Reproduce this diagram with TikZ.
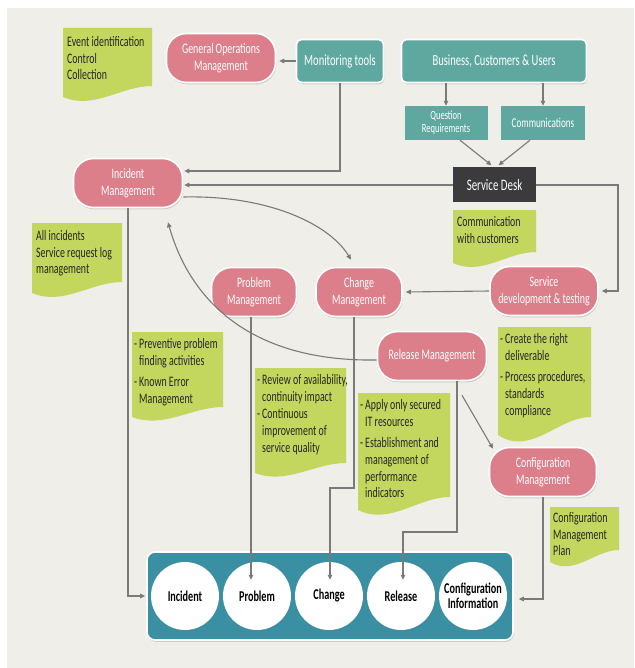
\documentclass[tikz,border=0pt]{standalone}
\usepackage{fontspec}
\setmainfont[FakeStretch=0.68]{Carlito}
\usetikzlibrary{arrows.meta,shadows,calc}
\definecolor{bgc}{HTML}{EFEEE8}
\definecolor{pinkc}{HTML}{DD7F8B}
\definecolor{tealc}{HTML}{5EA8A0}
\definecolor{notec}{HTML}{C3D65E}
\definecolor{contc}{HTML}{3B8FA3}
\definecolor{darkc}{HTML}{3B3B3D}
\definecolor{arrc}{HTML}{7A7A7A}
\newcommand\notebg[5]{\fill[notec] (#1,#2) -- (#3,#2) -- (#3,#4) .. controls ({#1+0.65*(#3-#1)},#4) and ({#1+0.35*(#3-#1)},{#4+2.2*#5}) .. (#1,{#4+#5}) -- cycle;}
\begin{document}
\begin{tikzpicture}[x=1pt,y=-1pt,
  shad/.style={drop shadow={shadow xshift=0.8pt,shadow yshift=-1.8pt,opacity=0.3}},
  pinkbox/.style={shad,fill=pinkc,draw=white,line width=1.6pt,rounded corners=20pt,text=white,align=center,minimum width=#1,minimum height=49pt,inner sep=1pt,font=\fontsize{14.5}{17}\selectfont},
  tealbox/.style={shad,fill=tealc,draw=white,line width=1.6pt,rounded corners=5pt,text=white,minimum width=#1,minimum height=43pt,inner sep=1pt,font=\fontsize{15.5}{17}\selectfont},
  subbox/.style={fill=tealc,text=white,align=center,minimum width=#1,minimum height=34pt,inner sep=1pt},
  sdbox/.style={fill=darkc,text=white,minimum width=83pt,minimum height=35pt,inner sep=1pt,font=\fontsize{16}{17}\selectfont},
  notetext/.style={inner sep=0pt,anchor=north west,align=left,text=black!85,font=\fontsize{14.5}{16.8}\selectfont},
  circ/.style={circle,fill=white,minimum size=68pt,inner sep=0pt,align=center,font=\bfseries\fontsize{15}{15}\selectfont},
  arr/.style={draw=arrc,line width=1.1pt,-{Triangle[length=5pt,width=4.5pt]}}
]
\useasboundingbox (0,0) rectangle (634,668);
\fill[white] (0,0) rectangle (634,668);
\fill[bgc] (7,8) rectangle (634,668);

% notes
\notebg{63}{28}{152}{86}{11}
\node[notetext] (n1) at (67,36) {Event identification\\Control\\Collection};
\notebg{32}{223}{122}{282}{11}
\node[notetext] (n2) at (36,230) {All incidents\\Service request log\\management};
\notebg{453}{210}{536}{252}{11}
\node[notetext] (n3) at (457,216) {Communication\\with customers};
\notebg{132}{332}{223}{407}{10}
\node[notetext] (n4) at (134,337) {\begin{tabular}{@{}l@{\hspace{2pt}}l@{}}-&Preventive problem\\&finding activities\\[4pt]-&Known Error\\&Management\end{tabular}};
\notebg{255}{368}{346}{463}{10}
\node[notetext] (n5) at (257,373) {\begin{tabular}{@{}l@{\hspace{2pt}}l@{}}-&Review of availability,\\&continuity impact\\-&Continuous\\&improvement of\\&service quality\end{tabular}};
\notebg{358}{393}{450}{497}{13}
\node[notetext] (n6) at (360,398) {\begin{tabular}{@{}l@{\hspace{2pt}}l@{}}-&Apply only secured\\&IT resources\\[4pt]-&Establishment and\\&management of\\&performance\\&indicators\end{tabular}};
\notebg{498}{327}{591}{417}{18}
\node[notetext] (n7) at (500,332) {\begin{tabular}{@{}l@{\hspace{2pt}}l@{}}-&Create the right\\&deliverable\\[4pt]-&Process procedures,\\&standards\\&compliance\end{tabular}};
\notebg{550}{507}{619}{550}{12}
\node[notetext] (n8) at (553,512) {Configuration\\Management\\Plan};

% boxes
\node[pinkbox=109pt] (gom) at (221,58) {General Operations\\Management};
\node[tealbox=87pt] (mt) at (340,61) {Monitoring tools};
\node[tealbox=185pt] (bcu) at (494,61) {Business, Customers \& Users};
\node[subbox=83pt,font=\fontsize{12.5}{13}\selectfont] (qr) at (446,123) {Question\\Requirements};
\node[subbox=84pt,font=\fontsize{13.5}{14}\selectfont] (comm) at (543,123) {Communications};
\node[sdbox] (sd) at (494.5,185) {Service Desk};
\node[pinkbox=109pt] (im) at (128,183) {Incident\\Management};
\node[pinkbox=108pt] (sdt) at (544,291) {Service\\development \& testing};
\node[pinkbox=86pt] (chm) at (359,292) {Change\\Management};
\node[pinkbox=85pt] (pm) at (254,292) {Problem\\Management};
\node[pinkbox=109pt] (rm) at (432,356) {Release Management};
\node[pinkbox=107pt] (cfg) at (543,472) {Configuration\\Management};

% container
\node[shad,fill=contc,draw=white,line width=1.6pt,rounded corners=8pt,minimum width=366pt,minimum height=88pt] (cont) at (330,596) {};
\node[circ] (c1) at (185,596) {Incident};
\node[circ] (c2) at (257,596) {Problem};
\node[circ] (c3) at (329,596) {Change};
\node[circ] (c4) at (401,596) {Release};
\node[circ] (c5) at (473,596) {Configuration\\Information};

% connectors
\draw[arr] (mt.west) -- ($(mt.west -| gom.east)+(3,0)$);
\draw[arr] (mt.south) |- ($(im.east)+(1,-12)$);
\draw[arr] (sd.west) -- ($(sd.west -| im.east)+(1,0)$);
\draw[arr] (bcu.south -| qr.north) -- (qr.north);
\draw[arr] (bcu.south -| comm.north) -- (comm.north);
\draw[arr] ($(qr.south)+(14,0)$) -- ($(sd.north)+(-3,-2)$);
\draw[arr] ($(comm.south)+(-13,0)$) -- ($(sd.north)+(4,-2)$);
\coordinate (sdR) at (618,185);
\draw[arr] (sd.east) -- (sdR) |- ($(sdt.east)+(3,0)$);
\draw[arr] (sdt.west) -- ($(chm.east)+(3,0)$);
\draw[arr] ($(im.east)+(0,14)$) .. controls (270,195) and (330,225) .. ($(chm.north)+(-8,-7)$);
\draw[arr] ($(rm.west)+(0,4)$) .. controls (250,362) and (190,300) .. ($(im.south)+(40,14)$);
\draw[arr] (im.south) |- ($(cont.west)+(-1,0)$);
\draw[arr] ($(pm.south)+(-3,0)$) -- ($(pm.south |- c2.north)+(-3,18)$);
\coordinate (chk) at (330,488);
\draw[arr] ($(chm.south)+(-5,0)$) |- (chk) -- ($(chk |- c3.north)+(0,18)$);
\coordinate (rmk) at (457,532);
\draw[arr] ($(rm.south)+(25,0)$) -- (rmk) -| ($(c4.north)+(2,18)$);
\draw[arr] ($(rm.south)+(30,14)$) -- ($(cfg.north)+(-50,2)$);
\draw[arr] (cfg.south) |- ($(cont.east)+(5,3)$);
\end{tikzpicture}
\end{document}
